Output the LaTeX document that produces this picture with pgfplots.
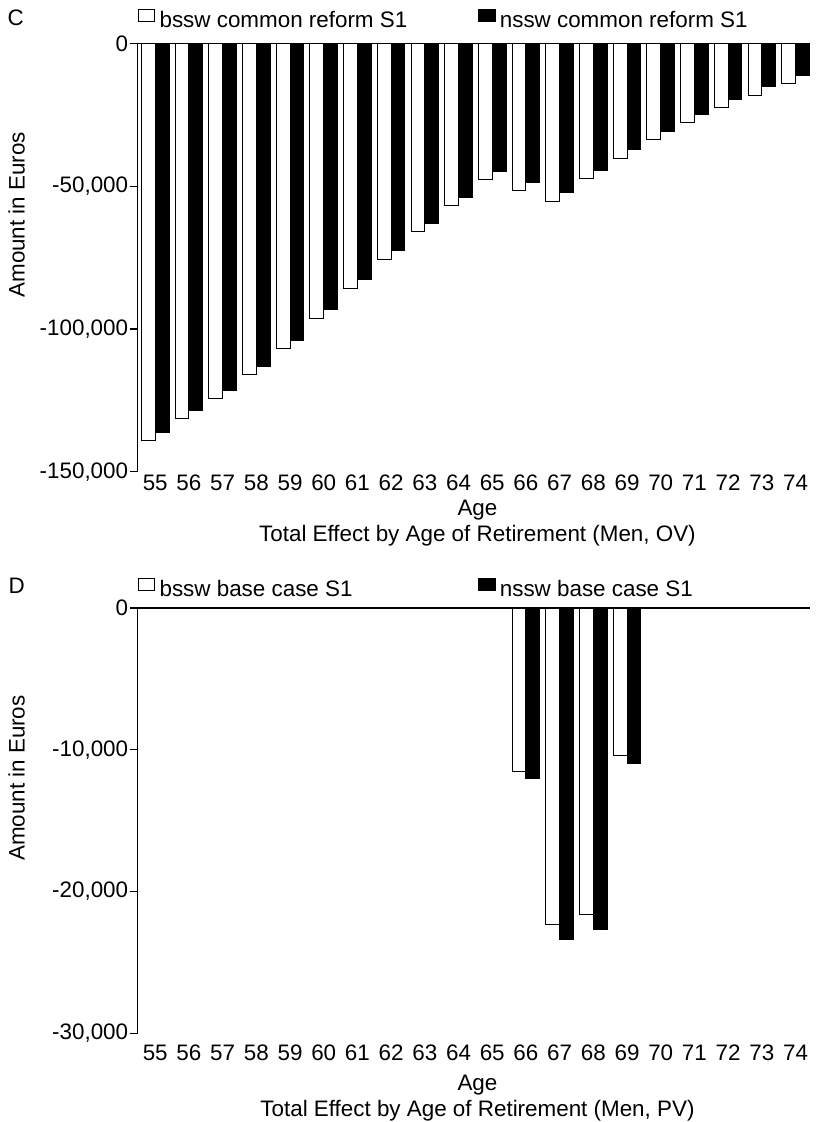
\documentclass[border=0pt]{standalone}
\usepackage{fontspec}
\setmainfont{Liberation Sans}
\usepackage{pgfplots}
\usepackage{pgfplotstable}
\pgfplotsset{compat=1.18}

\newcommand\chartfont{\fontsize{16.8pt}{19.2pt}\selectfont}

\pgfplotstableread{
age bssw nssw
55 -139100 -136200
56 -131500 -128600
57 -124500 -121500
58 -116000 -113000
59 -106800 -104000
60 -96400 -93300
61 -85700 -82800
62 -75600 -72600
63 -65900 -63200
64 -56900 -54000
65 -47800 -45000
66 -51600 -48800
67 -55200 -52300
68 -47400 -44500
69 -40400 -37200
70 -33700 -30800
71 -27600 -24900
72 -22400 -19700
73 -18200 -15200
74 -14100 -11200
}\topdata

\pgfplotstableread{
age bssw nssw
66 -11500 -12020
67 -22300 -23360
68 -21590 -22640
69 -10420 -10980
}\botdata

\pgfplotsset{
  chartstyle/.style={
    scale only axis,
    clip=false,
    width=504.2pt,
    axis lines*=left,
    x axis line style={draw=none},
    y axis line style={line width=1pt},
    xmin=54.48, xmax=74.43,
    xtick={55,...,74},
    xtick style={draw=none},
    ytick style={line width=1pt, black},
    tick align=outside,
    major tick length=6pt,
    scaled y ticks=false,
    ybar=0pt, bar width=0.41,
    /pgf/number format/assume math mode=true,
    tick label style={font=\chartfont},
    yticklabel style={inner sep=1pt},
    xticklabel style={inner sep=0pt, anchor=north},
    label style={font=\chartfont},
    ylabel={Amount in Euros},
    ylabel style={at={(axis description cs:-0.1801,0.6)}, anchor=center, inner sep=0pt},
    xlabel style={at={(axis description cs:0.5,0)}, anchor=north, inner sep=0pt, align=center, xshift=2.7pt},
    legend columns=2,
    legend style={draw=none, fill=none, inner sep=0pt, outer sep=0pt,
      at={(axis description cs:0,1)}, anchor=west,
      nodes={inner sep=0pt, font=\chartfont},
      /tikz/every odd column/.append style={column sep=3.2pt}},
    legend image code/.code={\draw[##1, line width=0.7pt] (0pt,-1pt) rectangle (12.5pt,8.5pt);},
  },
  whitebar/.style={draw=black, fill=white, line width=0.7pt},
  blackbar/.style={draw=black, fill=black, line width=0.7pt},
}

\begin{document}
\begin{tikzpicture}
\useasboundingbox (-103.3pt,32.6pt) rectangle (508.7pt,-808.9pt);

\begin{axis}[chartstyle,
  at={(0pt,0pt)}, anchor=north west,
  height=321.2pt,
  ymin=-150000, ymax=0,
  ytick={-150000,-100000,-50000,0},
  yticklabels={{-150,000},{-100,000},{-50,000},{0}},
  xticklabel style={yshift=3.5pt},
  xlabel={Age\\Total Effect by Age of Retirement (Men, OV)},
  xlabel style={yshift=-21.2pt},
  legend style={yshift=18.2pt},
]
\addplot[whitebar] table[x=age, y=bssw] {\topdata};
\addlegendentry{\makebox[238.8pt][l]{bssw common reform S1}}
\addplot[blackbar] table[x=age, y=nssw] {\topdata};
\addlegendentry{nssw common reform S1}
\draw[line width=1pt] (rel axis cs:0,1) -- (rel axis cs:1,1);
\node[font=\chartfont, inner sep=0pt] at (rel axis cs:0,1) [xshift=-91.6pt, yshift=19.5pt] {C};
\end{axis}

\begin{axis}[chartstyle,
  at={(0pt,-423.4pt)}, anchor=north west,
  height=319pt,
  ymin=-30000, ymax=0,
  ytick={-30000,-20000,-10000,0},
  yticklabels={{-30,000},{-20,000},{-10,000},{0}},
  xticklabel style={yshift=-2.8pt},
  xlabel={Age\\Total Effect by Age of Retirement (Men, PV)},
  xlabel style={yshift=-31.3pt},
  legend style={yshift=15pt},
]
\addplot[whitebar] table[x=age, y=bssw] {\botdata};
\addlegendentry{\makebox[238.8pt][l]{bssw base case S1}}
\addplot[blackbar] table[x=age, y=nssw] {\botdata};
\addlegendentry{nssw base case S1}
\draw[line width=1pt] (rel axis cs:0,1) -- (rel axis cs:1,1);
\node[font=\chartfont, inner sep=0pt] at (rel axis cs:0,1) [xshift=-90.8pt, yshift=16.5pt] {D};
\end{axis}
\end{tikzpicture}
\end{document}
